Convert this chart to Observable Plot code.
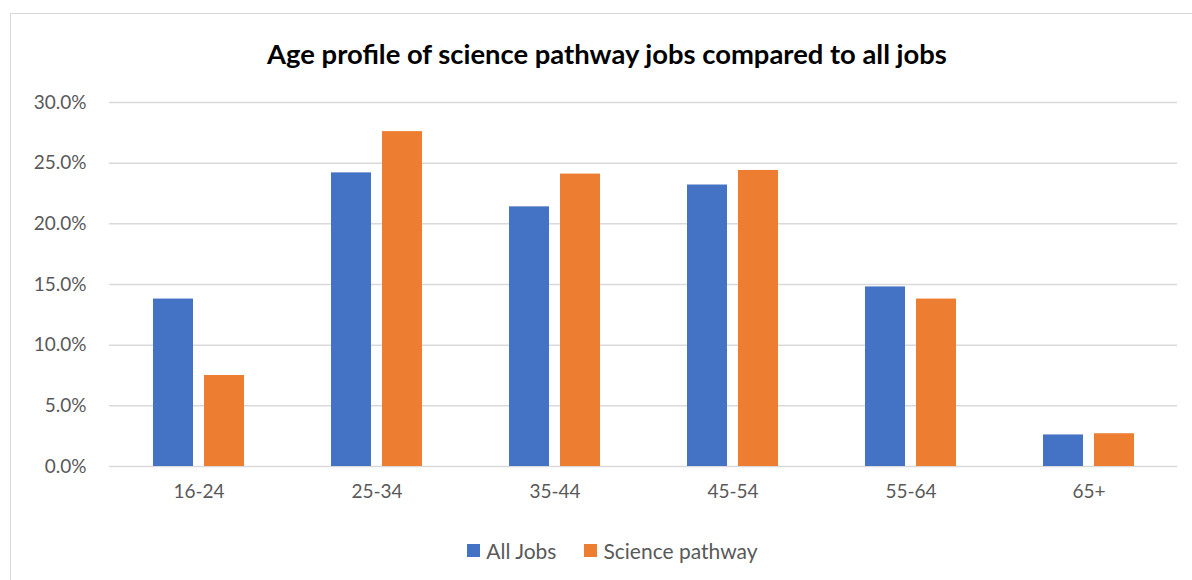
<!DOCTYPE html>
<html>
<head>
<meta charset="utf-8">
<script src="https://cdn.jsdelivr.net/npm/d3@7"></script>
<script src="https://cdn.jsdelivr.net/npm/@observablehq/plot@0.6"></script>
<style>
  html, body { margin: 0; padding: 0; background: #fff; width: 1192px; height: 580px; overflow: hidden; position: relative; font-family: Lato, "Open Sans", sans-serif; }
  #frame { position: absolute; left: 10px; top: 13px; width: 1300px; height: 700px; border: 1px solid #d9d9d9; box-sizing: border-box; }
  #title { position: absolute; left: 0; top: 37px; width: 1214px; text-align: center; font-weight: 700; font-size: 27.4px; color: #000; white-space: nowrap; }
  #chart { position: absolute; left: 0; top: 85px; }
  #legend { position: absolute; left: 0; top: 536px; width: 1225px; text-align: center; font-size: 21px; color: #595959; white-space: nowrap; }
  .item { display: inline-flex; align-items: center; margin: 0 14px; }
  .sw { display: inline-block; width: 13px; height: 13px; margin-right: 6px; }
</style>
</head>
<body>
<div id="frame"></div>
<div id="title">Age profile of science pathway jobs compared to all jobs</div>
<div id="chart"></div>
<div id="legend"></div>
<script>
const ages = ["16-24", "25-34", "35-44", "45-54", "55-64", "65+"];
const seriesNames = ["All Jobs", "Science pathway"];
const allJobs = [13.8, 24.2, 21.4, 23.2, 14.8, 2.6];
const sciencePathway = [7.5, 27.6, 24.1, 24.4, 13.8, 2.7];
const yTicks = [0, 5, 10, 15, 20, 25, 30];
const colors = ["#4472C4", "#ED7D31"];

const allData = ages.map((a, i) => ({age: a, series: seriesNames[0], value: allJobs[i]}));
const sciData = ages.map((a, i) => ({age: a, series: seriesNames[1], value: sciencePathway[i]}));

const chart = Plot.plot({
  width: 1192,
  height: 435,
  marginLeft: 109,
  marginRight: 15,
  marginTop: 17,
  marginBottom: 54,
  style: {fontFamily: "Lato, 'Open Sans', sans-serif", fontSize: "19px", color: "#595959", background: "transparent"},
  x: {domain: ages, paddingInner: 0.489, paddingOuter: 0.2445, label: null, tickSize: 0, tickPadding: 18},
  y: {domain: [0, 30], label: null, ticks: yTicks, tickSize: 0, tickPadding: 23, tickFormat: d => d.toFixed(1) + "%"},
  color: {domain: seriesNames, range: colors},
  marks: [
    Plot.gridY(yTicks, {stroke: "#d9d9d9", strokeOpacity: 1, strokeWidth: 1.5}),
    Plot.barY(allData, {x: "age", y: "value", fill: "series", insetRight: 51}),
    Plot.barY(sciData, {x: "age", y: "value", fill: "series", insetLeft: 51})
  ]
});
document.getElementById("chart").appendChild(chart);

const legend = document.getElementById("legend");
seriesNames.forEach((s, i) => {
  const item = document.createElement("span");
  item.className = "item";
  const sw = document.createElement("span");
  sw.className = "sw";
  sw.style.background = colors[i];
  item.appendChild(sw);
  item.appendChild(document.createTextNode(s));
  legend.appendChild(item);
});
</script>
</body>
</html>
